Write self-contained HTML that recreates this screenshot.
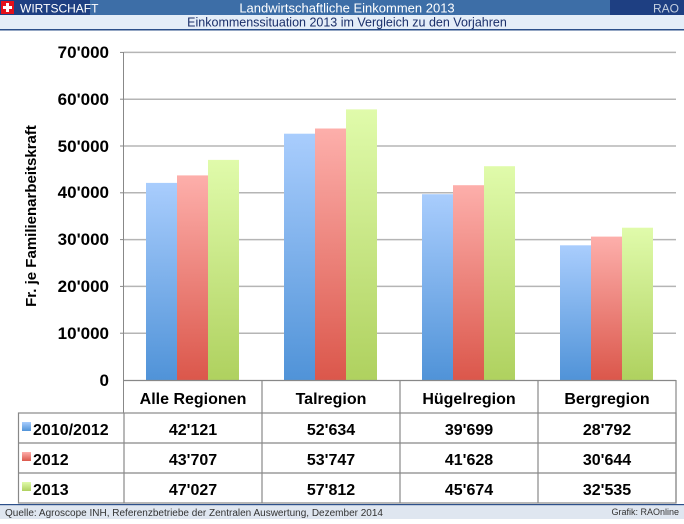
<!DOCTYPE html>
<html><head><meta charset="utf-8"><style>
body{margin:0;width:684px;height:519px;overflow:hidden;background:#fff;font-family:"Liberation Sans",sans-serif}
</style></head><body>
<svg width="684" height="519" xmlns="http://www.w3.org/2000/svg" font-family="Liberation Sans, sans-serif">
<defs>
<linearGradient id="b" x1="0" y1="0" x2="0" y2="1"><stop offset="0" stop-color="#a9cdfd"/><stop offset="1" stop-color="#5093d8"/></linearGradient>
<linearGradient id="r" x1="0" y1="0" x2="0" y2="1"><stop offset="0" stop-color="#fdafab"/><stop offset="1" stop-color="#db574b"/></linearGradient>
<linearGradient id="g" x1="0" y1="0" x2="0" y2="1"><stop offset="0" stop-color="#e0fbab"/><stop offset="1" stop-color="#afd15f"/></linearGradient>
</defs>
<rect x="0" y="0" width="684" height="15" fill="#3d6ea7"/>
<rect x="0" y="0" width="90" height="15" fill="#1e3f82"/>
<rect x="610" y="0" width="74" height="15" fill="#1e3f82"/>
<rect x="1" y="1" width="13" height="13" fill="#e3101a"/>
<rect x="6" y="3" width="3" height="9" fill="#fff"/><rect x="3" y="6" width="9" height="3" fill="#fff"/>
<text x="20" y="12.5" font-size="12" fill="#fff">WIRTSCHAFT</text>
<text x="347" y="12.5" font-size="13" fill="#fff" text-anchor="middle">Landwirtschaftliche Einkommen 2013</text>
<text x="679" y="12.5" font-size="12" fill="#c5d0e0" text-anchor="end">RAO</text>
<rect x="0" y="15" width="684" height="14" fill="#e4edf8"/>
<rect x="0" y="29" width="684" height="1.5" fill="#2b4f8a"/>
<text x="347" y="26.5" font-size="12.5" fill="#1a2f6a" text-anchor="middle">Einkommenssituation 2013 im Vergleich zu den Vorjahren</text>
<g stroke="#b5b5b5" stroke-width="1.5">
<line x1="124" y1="52.4" x2="676" y2="52.4"/><line x1="124" y1="99.2" x2="676" y2="99.2"/><line x1="124" y1="146" x2="676" y2="146"/><line x1="124" y1="192.8" x2="676" y2="192.8"/><line x1="124" y1="239.6" x2="676" y2="239.6"/><line x1="124" y1="286.4" x2="676" y2="286.4"/><line x1="124" y1="333.2" x2="676" y2="333.2"/>
</g>
<g stroke="#888" stroke-width="1"><line x1="123.5" y1="52" x2="123.5" y2="413"/><line x1="120" y1="52.4" x2="124" y2="52.4"/><line x1="120" y1="99.2" x2="124" y2="99.2"/><line x1="120" y1="146" x2="124" y2="146"/><line x1="120" y1="192.8" x2="124" y2="192.8"/><line x1="120" y1="239.6" x2="124" y2="239.6"/><line x1="120" y1="286.4" x2="124" y2="286.4"/><line x1="120" y1="333.2" x2="124" y2="333.2"/></g>
<g font-size="17" font-weight="bold" text-anchor="end" fill="#000">
<text x="109" y="58">70'000</text><text x="109" y="105">60'000</text><text x="109" y="152">50'000</text><text x="109" y="198">40'000</text><text x="109" y="245">30'000</text><text x="109" y="292">20'000</text><text x="109" y="339">10'000</text><text x="109" y="386">0</text>
</g>
<text transform="translate(36,216) rotate(-90)" font-size="15" font-weight="bold" text-anchor="middle">Fr. je Familienarbeitskraft</text>
<g>
<rect x="146" y="182.9" width="31" height="197.1" fill="url(#b)"/><rect x="177" y="175.4" width="31" height="204.6" fill="url(#r)"/><rect x="208" y="159.9" width="31" height="220.1" fill="url(#g)"/>
<rect x="284" y="133.7" width="31" height="246.3" fill="url(#b)"/><rect x="315" y="128.5" width="31" height="251.5" fill="url(#r)"/><rect x="346" y="109.4" width="31" height="270.6" fill="url(#g)"/>
<rect x="422" y="194.2" width="31" height="185.8" fill="url(#b)"/><rect x="453" y="185.2" width="31" height="194.8" fill="url(#r)"/><rect x="484" y="166.2" width="31" height="213.8" fill="url(#g)"/>
<rect x="560" y="245.3" width="31" height="134.7" fill="url(#b)"/><rect x="591" y="236.6" width="31" height="143.4" fill="url(#r)"/><rect x="622" y="227.7" width="31" height="152.3" fill="url(#g)"/>
</g>
<g stroke="#888" stroke-width="1.2" fill="none">
<line x1="124" y1="380.5" x2="676" y2="380.5"/>
<line x1="262" y1="380" x2="262" y2="503"/><line x1="400" y1="380" x2="400" y2="503"/><line x1="538" y1="380" x2="538" y2="503"/><line x1="676" y1="380" x2="676" y2="503"/>
<rect x="18.5" y="413" width="657.5" height="90"/>
<line x1="18" y1="443" x2="676" y2="443"/><line x1="18" y1="473" x2="676" y2="473"/>
<line x1="124" y1="413" x2="124" y2="503"/>
</g>
<g font-size="16" font-weight="bold" text-anchor="middle">
<text x="193" y="404">Alle Regionen</text><text x="331" y="404">Talregion</text><text x="469" y="404">Hügelregion</text><text x="607" y="404">Bergregion</text>
<text x="193" y="435">42'121</text><text x="331" y="435">52'634</text><text x="469" y="435">39'699</text><text x="607" y="435">28'792</text>
<text x="193" y="465">43'707</text><text x="331" y="465">53'747</text><text x="469" y="465">41'628</text><text x="607" y="465">30'644</text>
<text x="193" y="495">47'027</text><text x="331" y="495">57'812</text><text x="469" y="495">45'674</text><text x="607" y="495">32'535</text>
</g>
<rect x="22" y="422" width="9" height="9" fill="url(#b)"/><rect x="22" y="452" width="9" height="9" fill="url(#r)"/><rect x="22" y="482" width="9" height="9" fill="url(#g)"/>
<g font-size="16" font-weight="bold"><text x="33" y="435">2010/2012</text><text x="33" y="465">2012</text><text x="33" y="495">2013</text></g>
<rect x="0" y="504" width="684" height="15" fill="#dfe6f0"/>
<rect x="0" y="504" width="684" height="1.2" fill="#2b4f8a"/>
<text x="5" y="516" font-size="10" fill="#333">Quelle: Agroscope INH, Referenzbetriebe der Zentralen Auswertung, Dezember 2014</text>
<text x="679" y="515" font-size="9" fill="#333" text-anchor="end">Grafik: RAOnline</text>
</svg>
</body></html>
